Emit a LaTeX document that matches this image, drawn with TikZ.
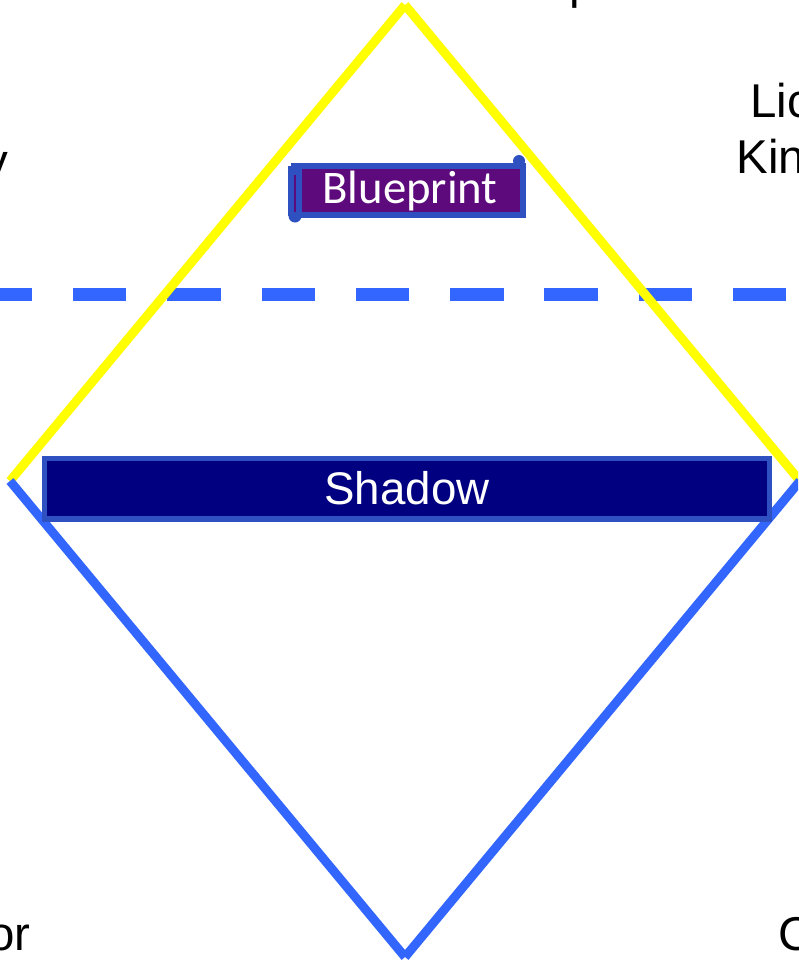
\documentclass[tikz,border=0pt]{standalone}
\usepackage{fontspec}
\setmainfont{Liberation Sans}
\newfontfamily\calibri{Carlito}
\usetikzlibrary{calc}
\definecolor{rimyellow}{HTML}{FFFF00}
\definecolor{rimblue}{HTML}{3366FF}
\definecolor{boxblue}{HTML}{2E50C0}
\definecolor{shadownavy}{HTML}{000080}
\definecolor{printpurple}{HTML}{5C0A7C}
\tikzset{
  rim/.style={line width=5.1pt},
  sidelabel/.style={inner sep=0pt, font=\fontsize{27}{32}\selectfont},
  boxlabel/.style={inner sep=0pt, text=white, font=\fontsize{26}{31}\selectfont},
}

\begin{document}
\begin{tikzpicture}[x=0.02cm, y=-0.02cm]
		%%%%% START %%%%%
		
		\useasboundingbox (0, 0) rectangle (798, 960);
		\clip (0, 0) rectangle (798, 960);
		
		\draw[line width=7.4pt, color=rimblue, dash pattern=on 1.07cm off 0.816cm] (-21.3, 294) -- (840, 294);
		
		\coordinate (top) at (405, 5);
		\coordinate (left) at (10, 481);
		\coordinate (right) at (800, 481);
		\coordinate (bottom) at (405, 957);
		
		\draw[rim, color=rimyellow] (top) -- (left);
		\draw[rim, color=rimyellow] (top) -- (right);
		\draw[rim, color=rimblue] (left) -- (bottom);
		\draw[rim, color=rimblue] (right) -- (bottom);
		
		\draw[line width=3.4pt, draw=boxblue, fill=printpurple] (294, 166) rectangle (523, 215);
		\fill[boxblue] (288, 166) rectangle (302, 216);
		\fill[boxblue] (295, 216) circle (0.13cm);
		\fill[boxblue] (519, 161) circle (0.12cm);
		\draw[line width=1pt, color=printpurple] (295, 175) -- (295, 212);
		\node (blueprint) [boxlabel, anchor=base, font=\calibri\fontsize{26.6}{31}\selectfont] at (410, 203) {Blueprint};
		
		\node (shadow) [boxlabel, draw=boxblue, fill=shadownavy, line width=2.85pt, minimum width=14.5cm, minimum height=1.22cm] at (407, 488.5) {Shadow};
		
		\node (lic) [sidelabel, anchor=base west] at (750, 117) {Lic};
		\node (kin) [sidelabel, anchor=base west] at (736, 173) {Kin};
		\node (ly) [sidelabel, anchor=base east] at (9, 177) {y};
		\node (lor) [sidelabel, anchor=base east] at (31, 950) {or};
		\node (rc) [sidelabel, anchor=base west] at (778, 950) {C};
		\node (tp) [sidelabel, anchor=base west] at (569, -2) {p};
		
		%%%%% END %%%%%
\end{tikzpicture}
\end{document}
